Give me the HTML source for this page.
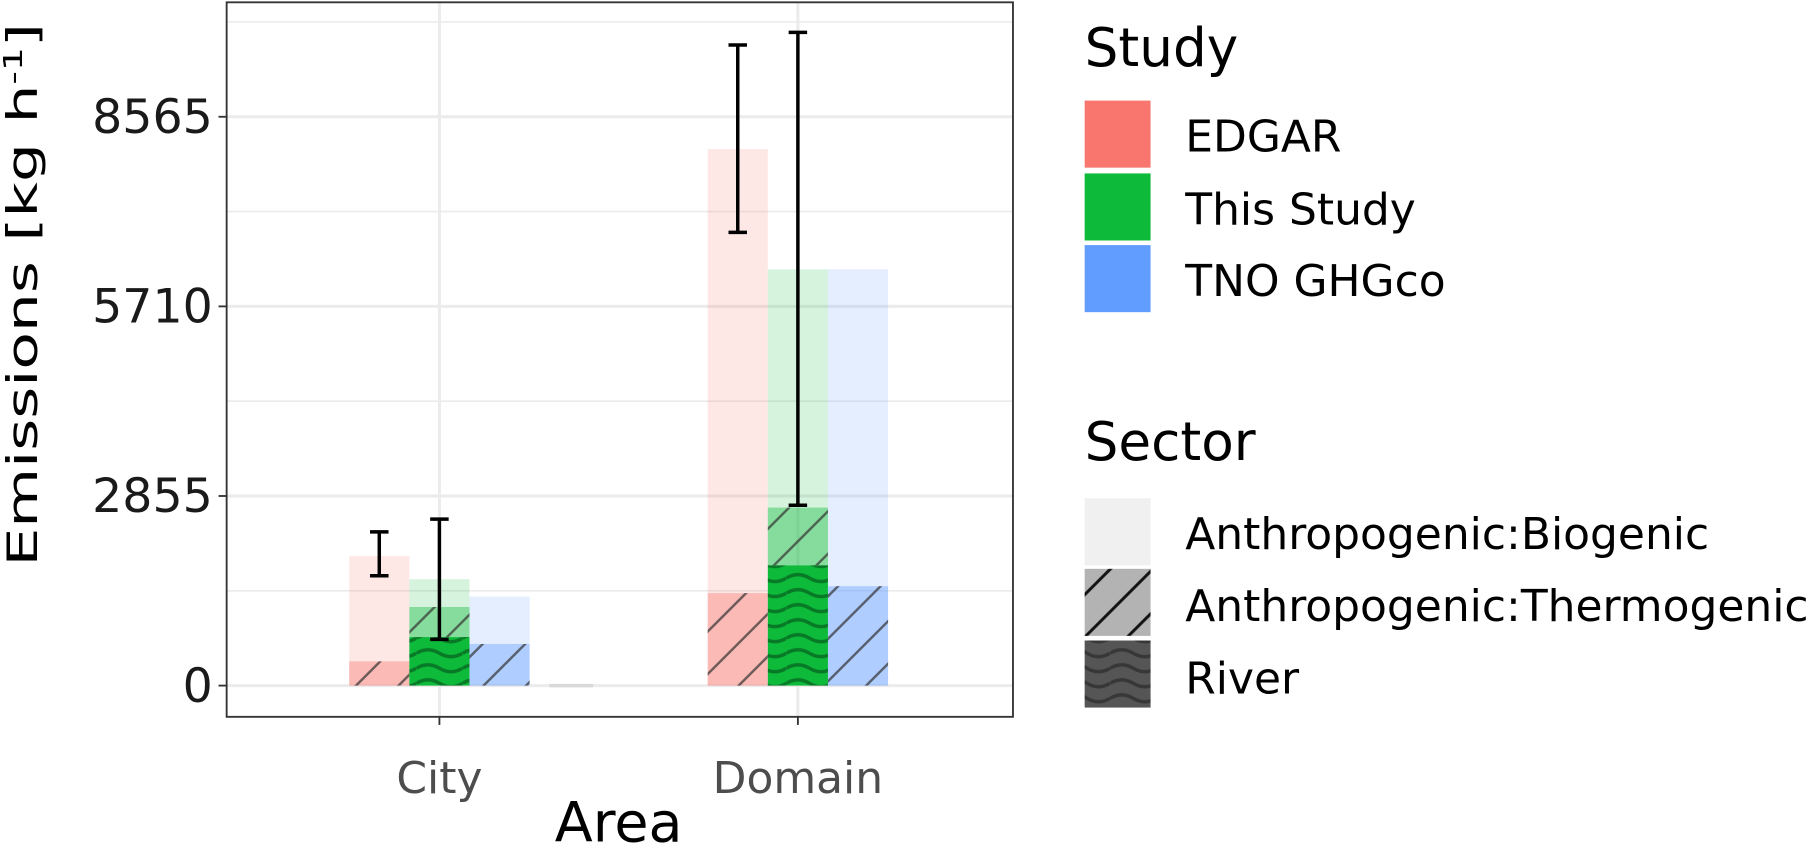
<!DOCTYPE html>
<html><head><meta charset="utf-8"><style>
html,body{margin:0;padding:0;background:#fff;}
svg{display:block;font-family:"DejaVu Sans","Liberation Sans",sans-serif;}
</style></head><body>
<svg id="chart" width="1812" height="844" viewBox="0 0 1567 730" preserveAspectRatio="none" xmlns="http://www.w3.org/2000/svg">
<defs>
<pattern id="hatch" patternUnits="userSpaceOnUse" width="26" height="26" patternTransform="rotate(-45)">
<rect width="26" height="26" fill="none"/><line x1="0" y1="13" x2="26" y2="13" stroke="#333" stroke-width="2.2" stroke-opacity="0.7"/>
</pattern>
<pattern id="hatchKey" patternUnits="userSpaceOnUse" width="26" height="26" patternTransform="rotate(-45)">
<rect width="26" height="26" fill="#b3b3b3"/><line x1="0" y1="13" x2="26" y2="13" stroke="#111" stroke-width="2.6"/>
</pattern>
<pattern id="wave" patternUnits="userSpaceOnUse" width="40" height="13">
<path d="M0 6 Q10 0 20 6 T40 6" fill="none" stroke="#000" stroke-opacity="0.35" stroke-width="3"/>
</pattern>
</defs>
<g id="grid"></g>
<g id="bars"></g>
<g id="errs"></g>
<rect x="196" y="2" width="680" height="618" fill="none" stroke="#333" stroke-width="1.6"/>
<g id="axes"></g>
<text x="535" y="728" font-size="48" text-anchor="middle" fill="#000">Area</text>
<text transform="translate(32,255) rotate(-90)" font-size="36" text-anchor="middle" fill="#000" textLength="470" lengthAdjust="spacingAndGlyphs">Emissions [kg h<tspan font-size="22" dy="-13">-1</tspan><tspan dy="13">]</tspan></text>
<g>
<text x="938" y="57" font-size="46">Study</text>
<rect x="938" y="87" width="57" height="58" fill="#F8766D"/>
<text x="1025" y="131" font-size="38">EDGAR</text>
<rect x="938" y="150" width="57" height="58" fill="#0DBA3A"/>
<text x="1025" y="194" font-size="38">This Study</text>
<rect x="938" y="212" width="57" height="58" fill="#619CFF"/>
<text x="1025" y="256" font-size="38">TNO GHGco</text>
</g>
<g>
<text x="938" y="398" font-size="46">Sector</text>
<rect x="938" y="431" width="57" height="58" fill="#f0f0f0"/>
<text x="1025" y="475" font-size="38">Anthropogenic:Biogenic</text>
<rect x="938" y="492" width="57" height="58" fill="url(#hatchKey)"/>
<text x="1025" y="537" font-size="38">Anthropogenic:Thermogenic</text>
<rect x="938" y="554" width="57" height="58" fill="#555"/>
<rect x="938" y="554" width="57" height="58" fill="url(#wave)"/>
<text x="1025" y="600" font-size="38">River</text>
</g>
</svg>
<script>
const areas = ["City","Domain"];
const studies = ["EDGAR","This Study","TNO GHGco"];
const studyColors = ["#F8766D","#0DBA3A","#619CFF"];
const totalVals = [[1950,1602,1340],[8078,6267,6267]];
const thermoTop = [[365,1184,627],[1393,2681,1497]];
const riverVals = [[0,731,0],[0,1811,0]];
const errLow = [[1654,696,null],[6825,2716,null]];
const errHigh = [[2315,2507,null],[9645,9836,null]];
const yTicks = [0,2855,5710,8565];

const NS="http://www.w3.org/2000/svg";
const y0=593, pxPer=164/2855;
const yS=v=>y0-v*pxPer;
const xC=[380,690], bw=52;
function mk(tag,attrs,parent){const e=document.createElementNS(NS,tag);for(const k in attrs)e.setAttribute(k,attrs[k]);parent.appendChild(e);return e;}
const grid=document.getElementById('grid'), bars=document.getElementById('bars'), errs=document.getElementById('errs'), axes=document.getElementById('axes');
for(let i=0;i<yTicks.length;i++){
  const v=yTicks[i]+1427.5;
  const l=mk('line',{x1:196,x2:876,y1:yS(v),y2:yS(v),stroke:'#ebebeb','stroke-width':1.4},grid);
  
  
}
yTicks.forEach(v=>{
  const l=mk('line',{x1:196,x2:876,y1:yS(v),y2:yS(v),stroke:'#ebebeb','stroke-width':2.6},grid);
  
  
  const t=mk('line',{x1:189,x2:196,y1:yS(v),y2:yS(v),stroke:'#333','stroke-width':1.6},axes);
  
  
  const tx=mk('text',{x:184,y:yS(v)+14,'font-size':41,'text-anchor':'end',fill:'#1a1a1a'},axes);
  tx.textContent=v;
  
  
});
areas.forEach((a,i)=>{
  const l=mk('line',{x1:xC[i],x2:xC[i],y1:2,y2:620,stroke:'#ebebeb','stroke-width':2.6},grid);
  
  
  const t=mk('line',{x1:xC[i],x2:xC[i],y1:620,y2:627,stroke:'#333','stroke-width':1.6},axes);
  
  
  const tx=mk('text',{x:xC[i],y:686,'font-size':38,'text-anchor':'middle',fill:'#4d4d4d'},axes);
  tx.textContent=a;
  
  
  studies.forEach((s,j)=>{
    const x=xC[i]-bw*1.5+j*bw, c=studyColors[j];
    const tot=totalVals[i][j], th=thermoTop[i][j], rv=riverVals[i][j];
    const b=mk('rect',{x:x,y:yS(tot),width:bw,height:yS(th)-yS(tot),fill:c,'fill-opacity':0.17},bars);
    
    
    const t2=mk('rect',{x:x,y:yS(th),width:bw,height:yS(rv)-yS(th),fill:c,'fill-opacity':0.5},bars);
    
    
    const h=mk('rect',{x:x,y:yS(th),width:bw,height:yS(rv)-yS(th),fill:'url(#hatch)'},bars);
    
    
    if(rv>0){
      const r=mk('rect',{x:x,y:yS(rv),width:bw,height:y0-yS(rv),fill:c},bars);
      
      
      const w=mk('rect',{x:x,y:yS(rv),width:bw,height:y0-yS(rv),fill:'url(#wave)'},bars);
      
      
    }
    if(errLow[i][j]!==null){
      const ex=x+bw/2, lo=yS(errLow[i][j]), hi=yS(errHigh[i][j]);
      const g=mk('g',{stroke:'#000','stroke-width':3},errs);
      
      
      mk('line',{x1:ex,x2:ex,y1:hi,y2:lo},g);
      mk('line',{x1:ex-8,x2:ex+8,y1:hi,y2:hi},g);
      mk('line',{x1:ex-8,x2:ex+8,y1:lo,y2:lo},g);
    }
  });
});
const z=mk('line',{x1:475,x2:513,y1:y0,y2:y0,stroke:'#d9d9d9','stroke-width':3},bars);


</script>
</body></html>
